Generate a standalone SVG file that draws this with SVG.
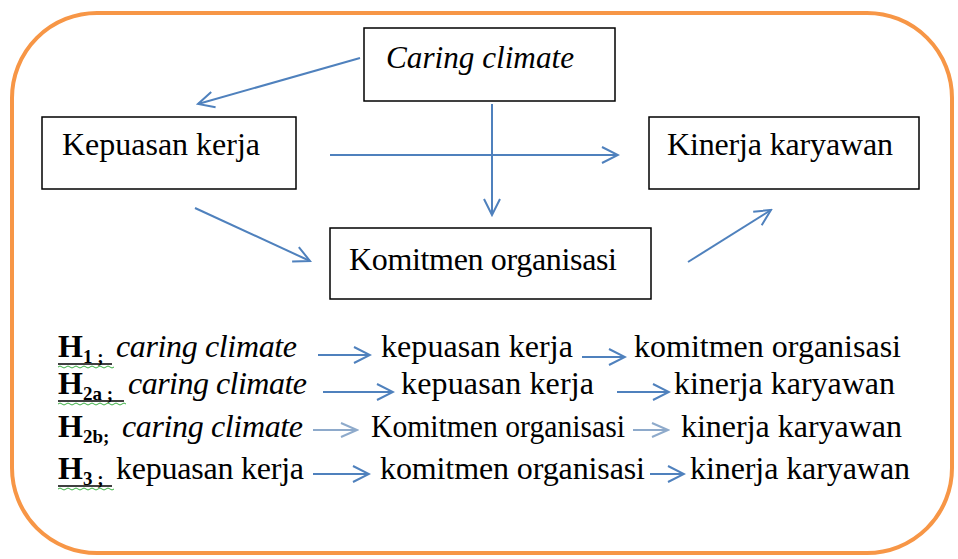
<svg xmlns="http://www.w3.org/2000/svg" width="958" height="559" viewBox="0 0 958 559">
<defs>
<style>
.t{font-family:"Liberation Serif","Times New Roman",serif;font-size:32px;fill:#000}
.i{font-style:italic}
.b{font-weight:bold}
.s{font-size:19px;font-weight:bold}
.box{fill:#fff;stroke:#000;stroke-width:1.5}
.c{stroke:#4f81bd;stroke-width:2;fill:none;marker-end:url(#ah)}
.cl{stroke:#8eaacb;stroke-width:2;fill:none;marker-end:url(#ahl)}
.ul{stroke:#000;stroke-width:1.5}
.wv{stroke:#3cb043;stroke-width:1;fill:none}
</style>
<marker id="ah" markerUnits="userSpaceOnUse" viewBox="0 0 20 20" refX="18" refY="10" markerWidth="20" markerHeight="20" orient="auto">
<path d="M2,2 L18,10 L2,18" fill="none" stroke="#4f81bd" stroke-width="2"/>
</marker>
<marker id="ahl" markerUnits="userSpaceOnUse" viewBox="0 0 20 20" refX="18" refY="10" markerWidth="20" markerHeight="20" orient="auto">
<path d="M2,3 L18,10 L2,17" fill="none" stroke="#8eaacb" stroke-width="2"/>
</marker>
</defs>
<rect width="958" height="559" fill="#fff"/>
<rect x="12" y="13" width="940" height="540" rx="85" ry="85" fill="none" stroke="#f79646" stroke-width="4"/>

<g id="caring-climate">
<rect class="box" x="364" y="28" width="251" height="73"/>
<text class="t i" x="386" y="68" textLength="188" lengthAdjust="spacingAndGlyphs">Caring climate</text>
</g>
<g id="kepuasan-kerja">
<rect class="box" x="42" y="117" width="254" height="72"/>
<text class="t" x="62" y="155" textLength="198">Kepuasan kerja</text>
</g>
<g id="kinerja-karyawan">
<rect class="box" x="649" y="117" width="270" height="72"/>
<text class="t" x="667" y="155" textLength="226">Kinerja karyawan</text>
</g>
<g id="komitmen-organisasi">
<rect class="box" x="330" y="228" width="321" height="71"/>
<text class="t" x="349" y="270" textLength="268">Komitmen organisasi</text>
</g>

<g id="connectors">
<line class="c" x1="360" y1="58" x2="198" y2="104"/>
<line class="c" x1="330" y1="155" x2="618" y2="155"/>
<line class="c" x1="492" y1="104" x2="492" y2="215"/>
<line class="c" x1="195" y1="208" x2="310" y2="261"/>
<line class="c" x1="688" y1="262" x2="771" y2="210"/>
</g>

<g id="hypotheses">
<g id="h1">
<text class="t" x="58" y="357"><tspan class="b">H</tspan><tspan class="s" dy="6">1 ;</tspan></text>
<line class="ul" x1="58" y1="364" x2="112" y2="364"/>
<path class="wv" d="M58,367 q2,-2 4,0 t4,0 t4,0 t4,0 t4,0 t4,0 t4,0 t4,0 t4,0 t4,0 t4,0 t4,0 t4,0 t4,0"/>
<text class="t i" x="116" y="357" textLength="181">caring climate</text>
<line class="c" x1="318" y1="355" x2="370" y2="355"/>
<text class="t" x="381" y="357" textLength="192">kepuasan kerja</text>
<line class="c" x1="582" y1="357" x2="625" y2="357"/>
<text class="t" x="634" y="357" textLength="267">komitmen organisasi</text>
</g>
<g id="h2a">
<text class="t" x="58" y="394"><tspan class="b">H</tspan><tspan class="s" dy="6">2a ;</tspan></text>
<line class="ul" x1="58" y1="401" x2="124" y2="401"/>
<path class="wv" d="M58,404 q2,-2 4,0 t4,0 t4,0 t4,0 t4,0 t4,0 t4,0 t4,0 t4,0 t4,0 t4,0 t4,0 t4,0 t4,0 t4,0 t4,0 t4,0"/>
<text class="t i" x="128" y="394" textLength="179">caring climate</text>
<line class="c" x1="323" y1="392" x2="393" y2="392"/>
<text class="t" x="401" y="394" textLength="193">kepuasan kerja</text>
<line class="c" x1="617" y1="392" x2="669" y2="392"/>
<text class="t" x="674" y="394" textLength="221">kinerja karyawan</text>
</g>
<g id="h2b">
<text class="t" x="58" y="437"><tspan class="b">H</tspan><tspan class="s" dy="6">2b;</tspan></text>
<text class="t i" x="122" y="437" textLength="181">caring climate</text>
<line class="cl" x1="313" y1="430" x2="357" y2="430"/>
<text class="t" x="371" y="437" textLength="254" lengthAdjust="spacingAndGlyphs">Komitmen organisasi</text>
<line class="cl" x1="633" y1="430" x2="668" y2="430"/>
<text class="t" x="681" y="437" textLength="221">kinerja karyawan</text>
</g>
<g id="h3">
<text class="t" x="58" y="479"><tspan class="b">H</tspan><tspan class="s" dy="6">3 ;</tspan></text>
<line class="ul" x1="58" y1="486" x2="112" y2="486"/>
<path class="wv" d="M58,489 q2,-2 4,0 t4,0 t4,0 t4,0 t4,0 t4,0 t4,0 t4,0 t4,0 t4,0 t4,0 t4,0 t4,0 t4,0"/>
<text class="t" x="116" y="479" textLength="188">kepuasan kerja</text>
<line class="c" x1="313" y1="474" x2="369" y2="474"/>
<text class="t" x="380" y="479" textLength="265">komitmen organisasi</text>
<line class="c" x1="650" y1="474" x2="684" y2="474"/>
<text class="t" x="690" y="479" textLength="220">kinerja karyawan</text>
</g>
</g>
</svg>
